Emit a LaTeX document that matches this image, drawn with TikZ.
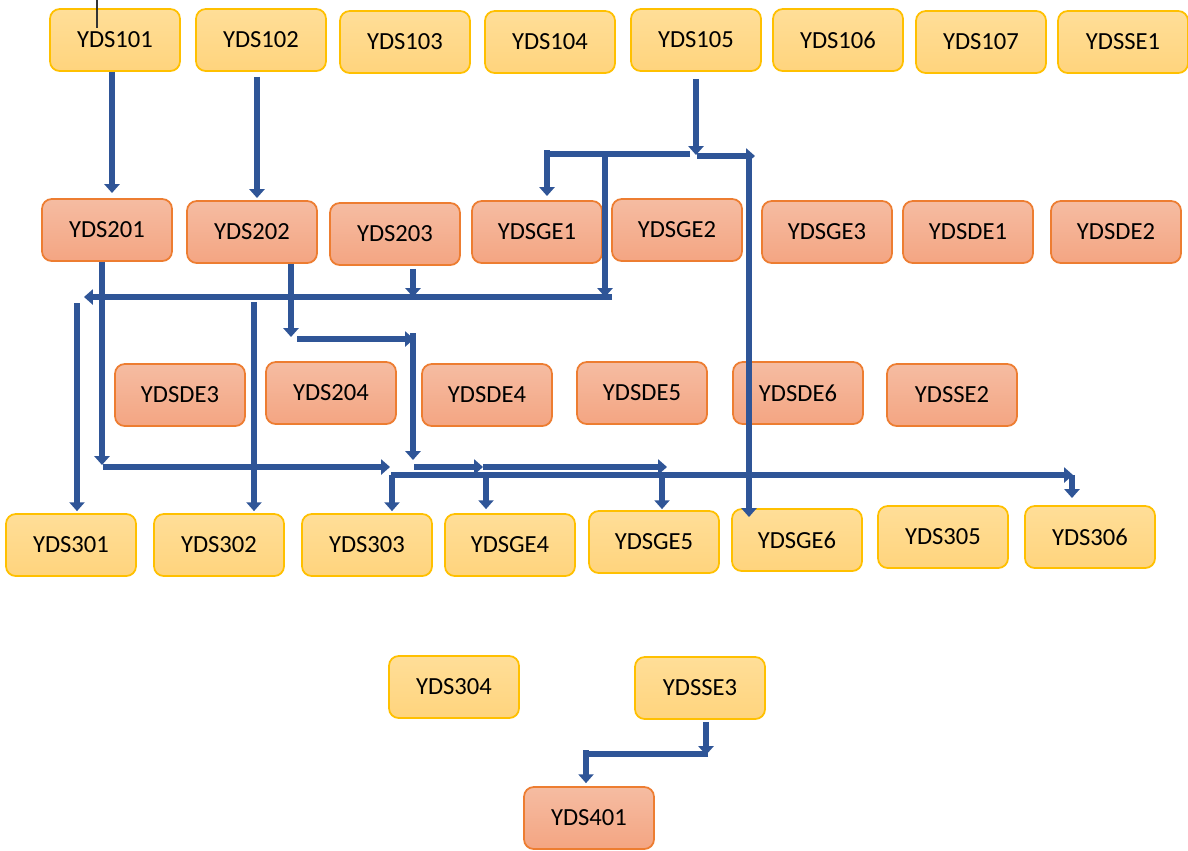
\documentclass[tikz,border=0pt]{standalone}
\usepackage{fontspec}
\setmainfont{Carlito}
\usepackage{tikz}
\usetikzlibrary{arrows.meta, positioning, calc}

\definecolor{goldline}{RGB}{255,192,0}
\definecolor{goldtop}{RGB}{255,222,152}
\definecolor{goldbot}{RGB}{255,212,125}
\definecolor{coralline}{RGB}{237,125,49}
\definecolor{coraltop}{RGB}{245,188,162}
\definecolor{coralbot}{RGB}{244,165,130}
\definecolor{linkblue}{RGB}{47,85,151}

\begin{document}
\begin{tikzpicture}[
  x=0.02cm, y=-0.02cm,
  box/.style={rectangle, rounded corners=5.5pt, line width=1pt, minimum width=2.6cm, minimum height=1.24cm, align=center, font=\fontsize{14}{16}\selectfont},
  upper/.style={box, top color=goldtop, bottom color=goldbot, draw=goldline},
  lower/.style={box, top color=coraltop, bottom color=coralbot, draw=coralline},
  arr/.style={-{Triangle[length=5pt,width=8.5pt]}, line width=3.4pt, draw=linkblue},
  seg/.style={line width=3.4pt, draw=linkblue},
  stub/.style={line width=0.7pt, draw=black!80}
]
\useasboundingbox (0,0) rectangle (1188,850);

% first row
\node[upper] (yds101) at (115,40) {YDS101};
\node[upper] (yds102) at (261,40) {YDS102};
\node[upper] (yds103) at (405,42) {YDS103};
\node[upper] (yds104) at (550,42) {YDS104};
\node[upper] (yds105) at (696,40) {YDS105};
\node[upper] (yds106) at (838,40) {YDS106};
\node[upper] (yds107) at (981,42) {YDS107};
\node[upper] (ydsse1) at (1123,42) {YDSSE1};

% second row
\node[lower] (yds201) at (107,230) {YDS201};
\node[lower] (yds202) at (252,232) {YDS202};
\node[lower] (yds203) at (395,234) {YDS203};
\node[lower] (ydsge1) at (537,232) {YDSGE1};
\node[lower] (ydsge2) at (677,230) {YDSGE2};
\node[lower] (ydsge3) at (827,232) {YDSGE3};
\node[lower] (ydsde1) at (968,232) {YDSDE1};
\node[lower] (ydsde2) at (1116,232) {YDSDE2};

% third row
\node[lower] (ydsde3) at (180,395) {YDSDE3};
\node[lower] (yds204) at (331,393) {YDS204};
\node[lower] (ydsde4) at (487,395) {YDSDE4};
\node[lower] (ydsde5) at (642,393) {YDSDE5};
\node[lower] (ydsde6) at (798,393) {YDSDE6};
\node[lower] (ydsse2) at (952,395) {YDSSE2};

% fourth row
\node[upper] (yds301) at (71,545) {YDS301};
\node[upper] (yds302) at (219,545) {YDS302};
\node[upper] (yds303) at (367,545) {YDS303};
\node[upper] (ydsge4) at (510,545) {YDSGE4};
\node[upper] (ydsge5) at (654,542) {YDSGE5};
\node[upper] (ydsge6) at (797,540) {YDSGE6};
\node[upper] (yds305) at (943,537) {YDS305};
\node[upper] (yds306) at (1090,537) {YDS306};

% bottom
\node[upper] (yds304) at (454,687) {YDS304};
\node[upper] (ydsse3) at (700,688) {YDSSE3};
\node[lower] (yds401) at (589,818) {YDS401};

% bend points
\coordinate (stray) at (97,0);
\coordinate (t201) at (112,193);
\coordinate (t202) at (257,198);
\coordinate (s105) at (696,155);
\coordinate (w105) at (690,154);
\coordinate (cge1) at (547,154);
\coordinate (tge1) at (547,196);
\coordinate (e105) at (697,156);
\coordinate (cge6) at (755,156);
\coordinate (tge6) at (749,517);
\coordinate (d605) at (605,155);
\coordinate (t605) at (605,297);
\coordinate (buse) at (612,297);
\coordinate (busw) at (84,297);
\coordinate (t203) at (413,297);
\coordinate (s301) at (77,303);
\coordinate (s302) at (254,302);
\coordinate (c201) at (102,465);
\coordinate (a201) at (103,467);
\coordinate (h201) at (390,467);
\coordinate (c202) at (291,337);
\coordinate (a202) at (297,339);
\coordinate (b202) at (414,339);
\coordinate (c413) at (413,333);
\coordinate (d413) at (413,460);
\coordinate (a467) at (414,467);
\coordinate (m467) at (483,467);
\coordinate (e467) at (667,467);
\coordinate (a475) at (391,475);
\coordinate (e475) at (1073,475);
\coordinate (t306) at (1072,498);
\coordinate (d303) at (392,475);
\coordinate (dge4) at (486,475);
\coordinate (dge5) at (662,475);
\coordinate (s3) at (706,755);
\coordinate (w3) at (708,754);
\coordinate (c401) at (586,754);

\draw[stub] (stray) -- ($(stray |- yds101.north)+(0,20)$);

\draw[arr] (t201 |- yds101.south) -- (t201);
\draw[arr] ($(t202 |- yds102.south)+(0,5)$) -- (t202);

\draw[arr] ($(s105 |- yds105.south)+(0,7)$) -- (s105);
\draw[seg] (w105) -- (cge1);
\draw[arr] ($(cge1)+(0,-4)$) -- (tge1);
\draw[arr] (e105) -- (cge6);
\draw[arr] (tge6 |- cge6) -- (tge6);
\draw[arr] (d605) -- (t605);

\draw[arr] (buse) -- (busw);
\draw[arr] ($(t203 |- yds203.south)+(0,3)$) -- (t203);
\draw[arr] (s301) -- ($(s301 |- yds301.north)+(0,-2)$);
\draw[arr] (s302) -- ($(s302 |- yds302.north)+(0,-2)$);

\draw[arr] (c201 |- yds201.south) -- (c201);
\draw[arr] (a201) -- (h201);
\draw[arr] (c202 |- yds202.south) -- (c202);
\draw[arr] (a202) -- (b202);
\draw[arr] (c413) -- (d413);
\draw[arr] (a467) -- (m467);
\draw[arr] (m467) -- (e467);

\draw[arr] (a475) -- (e475);
\draw[arr] (t306 |- e475) -- (t306);
\draw[arr] (d303) -- ($(d303 |- yds303.north)+(0,-2)$);
\draw[arr] (dge4) -- ($(dge4 |- ydsge4.north)+(0,-4)$);
\draw[arr] (dge5) -- ($(dge5 |- ydsge5.north)+(0,-1)$);

\draw[arr] ($(s3 |- ydsse3.south)+(0,2)$) -- (s3);
\draw[seg] (w3) -- (c401);
\draw[arr] ($(c401)+(0,-4)$) -- ($(c401 |- yds401.north)+(0,-3)$);
\end{tikzpicture}
\end{document}
